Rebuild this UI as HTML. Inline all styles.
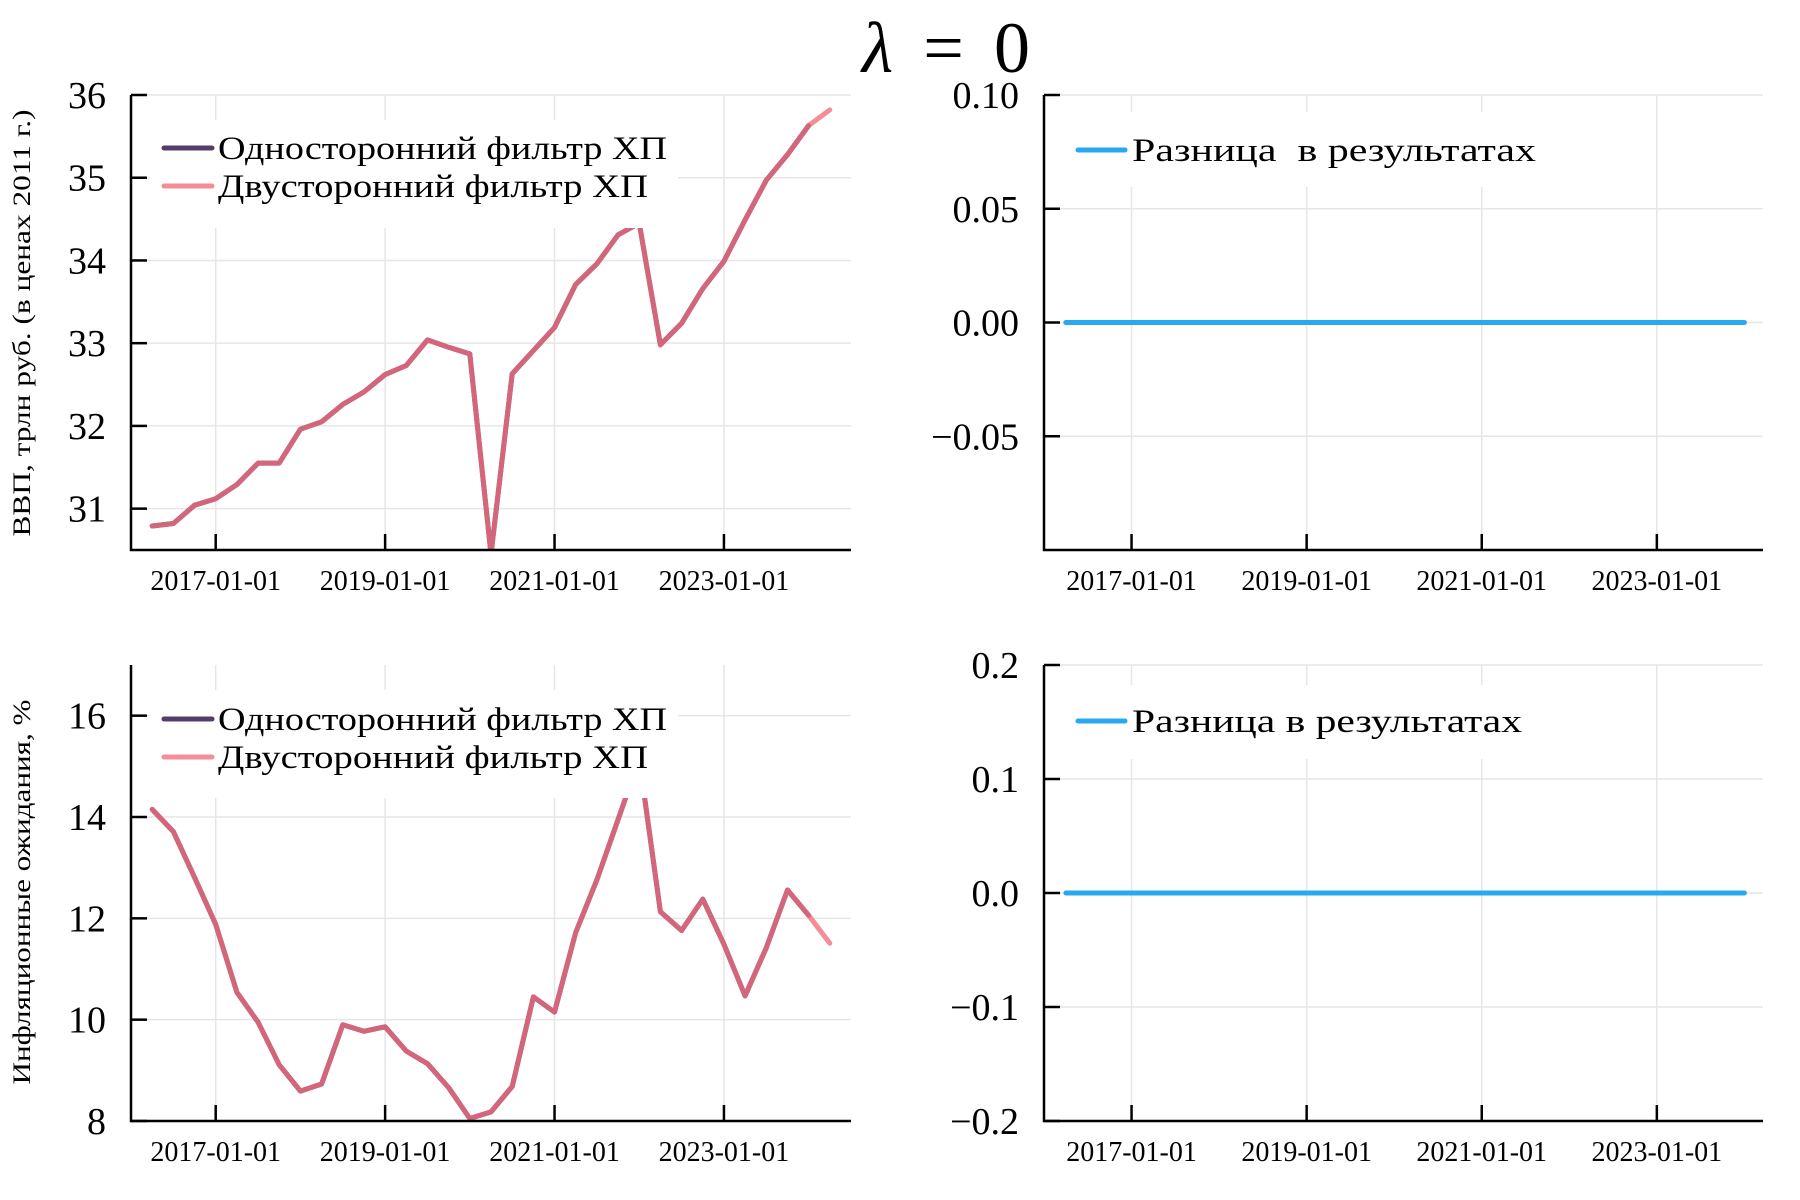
<!DOCTYPE html>
<html><head><meta charset="utf-8"><title>λ = 0</title>
<style>
html,body{margin:0;padding:0;background:#fff;}
svg{display:block;font-family:"Liberation Serif","DejaVu Serif",serif;}
</style></head>
<body>
<svg id="chart" width="1800" height="1200" viewBox="0 0 1800 1200" xmlns="http://www.w3.org/2000/svg">
<rect width="1800" height="1200" fill="#fff"/>
<text x="946" y="72" font-size="72" text-anchor="middle" textLength="168" lengthAdjust="spacing" font-family="'Liberation Serif',serif"><tspan font-style="italic">λ</tspan> = 0</text>
</svg>
<script>
// ---- data ----
const quarterIdx = [-3,-2,-1,0,1,2,3,4,5,6,7,8,9,10,11,12,13,14,15,16,17,18,19,20,21,22,23,24,25,26,27,28,29];
const gdpValues = [30.79,30.82,31.04,31.12,31.29,31.55,31.55,31.96,32.05,32.26,32.41,32.62,32.73,33.04,32.95,32.87,30.45,32.63,32.91,33.19,33.71,33.96,34.31,34.45,32.98,33.24,33.66,33.99,34.49,34.97,35.28,35.63,35.82];
const inflValues = [14.15,13.71,12.81,11.88,10.54,9.95,9.11,8.59,8.73,9.90,9.77,9.86,9.38,9.13,8.66,8.05,8.18,8.68,10.45,10.15,11.72,12.76,13.95,15.15,12.13,11.76,12.38,11.49,10.47,11.42,12.56,12.06,11.51];
const diffGdp = [0,0,0,0,0,0,0,0,0,0,0,0,0,0,0,0,0,0,0,0,0,0,0,0,0,0,0,0,0,0,0,0];
const diffInfl = [0,0,0,0,0,0,0,0,0,0,0,0,0,0,0,0,0,0,0,0,0,0,0,0,0,0,0,0,0,0,0,0];
const xTickLabels = ["2017-01-01","2019-01-01","2021-01-01","2023-01-01"];
const xTickIdx = [0,8,16,24];
const gdpTicks = [31,32,33,34,35,36];
const inflTicks = [8,10,12,14,16];
const diffGdpTicks = [-0.05,0,0.05,0.10];
const diffInflTicks = [-0.2,-0.1,0,0.1,0.2];

const NS = "http://www.w3.org/2000/svg";
const svg = document.getElementById('chart');
function mk(tag, attrs, parent){ const e=document.createElementNS(NS,tag); for(const k in attrs) e.setAttribute(k,attrs[k]); (parent||svg).appendChild(e); return e; }

let clipN=0;
function panel(o){
  const g = mk('g',{});
  
  
  const sx = v => o.x0 + (v - o.xmin)/(o.xmax - o.xmin)*(o.x1 - o.x0);
  const sy = v => o.y1 - (v - o.ymin)/(o.ymax - o.ymin)*(o.y1 - o.y0);
  o.xticks.forEach(t=>{ const l=mk('line',{x1:sx(t),x2:sx(t),y1:o.y0,y2:o.y1,stroke:'#e6e6e6','stroke-width':1.5},g);
      });
  o.yticks.forEach(t=>{ const l=mk('line',{x1:o.x0,x2:o.x1,y1:sy(t),y2:sy(t),stroke:'#e6e6e6','stroke-width':1.5},g);
      });
  const id='clip'+(clipN++);
  const cp=mk('clipPath',{id:id},g); mk('rect',{x:o.x0,y:o.y0,width:o.x1-o.x0,height:o.y1-o.y0},cp);
  o.series.forEach(s=>{
    const pts = s.values.map((v,i)=>sx(s.idx[i]).toFixed(1)+','+sy(v).toFixed(1)).join(' ');
    const p = mk('polyline',{points:pts,fill:'none',stroke:s.color,'stroke-width':5,'stroke-linejoin':'round','stroke-linecap':'round','stroke-opacity':s.op||1,'clip-path':'url(#'+id+')'},g);
    
    
  });
  const lg = mk('g',{},g);
  
  
  mk('rect',{x:o.legBox[0],y:o.legBox[1],width:o.legBox[2],height:o.legBox[3],fill:'#fff'},lg);
  o.legend.forEach(e=>{
    const ln = mk('line',{x1:e.lx0,x2:e.lx1,y1:e.y,y2:e.y,stroke:e.color,'stroke-width':5,'stroke-linecap':'round','stroke-opacity':e.op||1},lg);
    
    
    const t = mk('text',{x:e.tx,y:e.y+11,'font-size':33,textLength:e.w,lengthAdjust:'spacingAndGlyphs'},lg);
    t.textContent = e.label;
    
    
  });
  const ax = mk('path',{d:`M${o.x0},${o.y0} V${o.y1} H${o.x1}`,fill:'none',stroke:'#000','stroke-width':2.5},g);
  
  
  o.xticks.forEach((t,i)=>{
    mk('line',{x1:sx(t),x2:sx(t),y1:o.y1,y2:o.y1-16,stroke:'#000','stroke-width':2.5},g);
    const tx = mk('text',{x:sx(t),y:o.y1+40,'font-size':28,'text-anchor':'middle'},g);
    tx.textContent = xTickLabels[i];
    
    
  });
  o.yticks.forEach((t,i)=>{
    mk('line',{x1:o.x0,x2:o.x0+16,y1:sy(t),y2:sy(t),stroke:'#000','stroke-width':2.5},g);
    const ty = mk('text',{x:o.labRight,y:sy(t)+13,'font-size':38,'text-anchor':'end'},g);
    ty.textContent = o.ylabels[i];
    
    
  });
  if(o.ytitle){
    const yt = mk('text',{x:0,y:0,'font-size':25,'text-anchor':'middle',textLength:o.ytitle.len,lengthAdjust:'spacingAndGlyphs',transform:`translate(${o.ytitle.x},${o.ytitle.y}) rotate(-90)`},g);
    yt.textContent = o.ytitle.text;
    
    
  }
}
const PURPLE='#553d6b', PINK='#f27080', BLUE='#29a8f0';
const fmt2 = v => (v<0?'\u2212':'')+Math.abs(v).toFixed(2);
const fmt1 = v => (v<0?'\u2212':'')+Math.abs(v).toFixed(1);
const idxDiff = quarterIdx.slice(0, diffGdp.length);
const leftLegend = (y0)=>[
  {label:'Односторонний фильтр ХП',color:PURPLE,lx0:164,lx1:212,tx:218,y:y0,w:449},
  {label:'Двусторонний фильтр ХП',color:PINK,op:0.8,lx0:164,lx1:212,tx:218,y:y0+38,w:430}];

panel({name:'gdp-panel',x0:131,x1:851,y0:95,y1:550,xmin:-4,xmax:30,ymin:30.5,ymax:36,
  xticks:xTickIdx,yticks:gdpTicks,ylabels:gdpTicks.map(String),labRight:106,
  series:[{name:'gdp-one-sided-line',idx:quarterIdx.slice(0,-1),values:gdpValues.slice(0,-1),color:PURPLE},
          {name:'gdp-two-sided-line',idx:quarterIdx,values:gdpValues,color:PINK,op:0.8}],
  legBox:[150,120,528,108],legend:leftLegend(148),
  ytitle:{text:'ВВП, трлн руб. (в ценах 2011 г.)',x:30,y:323,len:427}});
panel({name:'inflation-panel',x0:131,x1:851,y0:665,y1:1121,xmin:-4,xmax:30,ymin:8,ymax:17,
  xticks:xTickIdx,yticks:inflTicks,ylabels:inflTicks.map(String),labRight:106,
  series:[{name:'infl-one-sided-line',idx:quarterIdx.slice(0,-1),values:inflValues.slice(0,-1),color:PURPLE},
          {name:'infl-two-sided-line',idx:quarterIdx,values:inflValues,color:PINK,op:0.8}],
  legBox:[150,690,528,108],legend:leftLegend(719),
  ytitle:{text:'Инфляционные ожидания, %',x:30,y:892,len:385}});
panel({name:'gdp-diff-panel',x0:1044,x1:1763,y0:95,y1:550,xmin:-4,xmax:28.85,ymin:-0.1,ymax:0.1,
  xticks:xTickIdx,yticks:diffGdpTicks,ylabels:diffGdpTicks.map(fmt2),labRight:1019,
  series:[{name:'gdp-diff-line',idx:idxDiff,values:diffGdp,color:BLUE}],
  legBox:[1062,112,482,75],
  legend:[{label:'Разница\u00a0 в результатах',color:BLUE,lx0:1078,lx1:1125,tx:1132,y:150,w:404}]});
panel({name:'inflation-diff-panel',x0:1044,x1:1763,y0:665,y1:1121,xmin:-4,xmax:28.85,ymin:-0.2,ymax:0.2,
  xticks:xTickIdx,yticks:diffInflTicks,ylabels:diffInflTicks.map(fmt1),labRight:1019,
  series:[{name:'infl-diff-line',idx:idxDiff,values:diffInfl,color:BLUE}],
  legBox:[1062,685,482,74],
  legend:[{label:'Разница в результатах',color:BLUE,lx0:1078,lx1:1125,tx:1132,y:721,w:390}]});
</script>
</body></html>
